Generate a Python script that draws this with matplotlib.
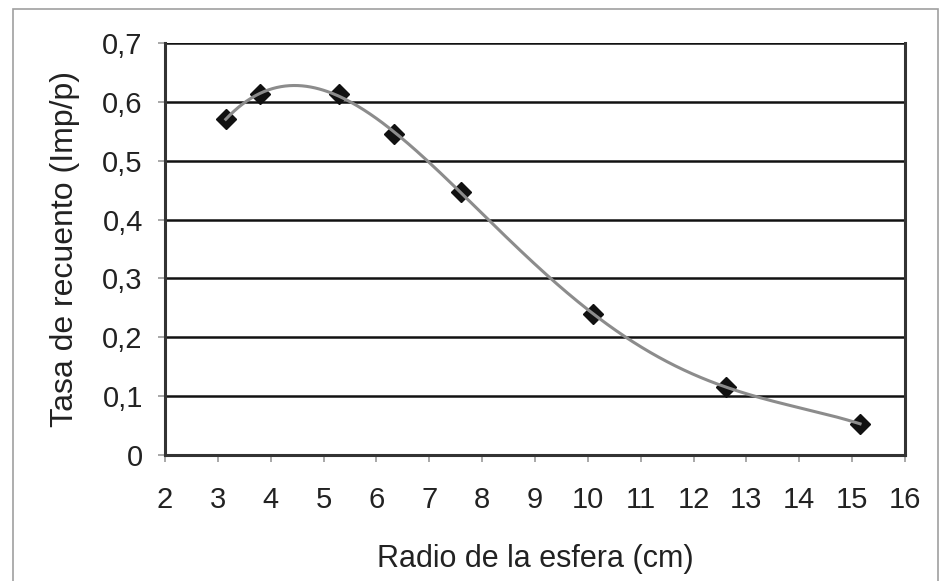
import matplotlib.pyplot as plt
import numpy as np
from matplotlib.patches import Rectangle

plt.rcParams['font.family'] = ['Liberation Sans', 'DejaVu Sans']

# radio de la esfera (cm) y tasa de recuento (Imp/p)
radio = [3.15, 3.80, 5.30, 6.33, 7.60, 10.10, 12.62, 15.15]
tasa = [0.571, 0.613, 0.613, 0.545, 0.447, 0.240, 0.115, 0.053]

x_ticks = list(range(2, 17))
y_ticks = [0, 0.1, 0.2, 0.3, 0.4, 0.5, 0.6, 0.7]
y_labels = ['0', '0,1', '0,2', '0,3', '0,4', '0,5', '0,6', '0,7']

fig = plt.figure(figsize=(9.5, 5.81), dpi=100)
ax = fig.add_axes([0.1737, 0.2169, 0.7789, 0.7091])

# marco gris alrededor del grafico
fig.patches.append(Rectangle((0.0137, -0.02), 0.974, 1.0045, transform=fig.transFigure,
                             fill=False, edgecolor='#a0a0a0', linewidth=1.2))

# linea de tendencia polinomica
coef = np.polyfit(radio, tasa, 4)
xs = np.linspace(radio[0], radio[-1], 300)
ax.plot(xs, np.polyval(coef, xs), color='#8c8c8c', linewidth=2.2, zorder=4)
ax.plot(radio, tasa, linestyle='none', marker='D', markersize=10.5,
        color='#111111', zorder=3)

ax.set_xlim(2, 16)
ax.set_ylim(0, 0.7)
ax.set_xticks(x_ticks)
ax.set_yticks(y_ticks)
ax.set_yticklabels(y_labels)
ax.grid(axis='y', color='#111111', linewidth=1.8)
ax.set_axisbelow(True)

for s in ['left', 'bottom', 'right']:
    ax.spines[s].set_color('#333333')
    ax.spines[s].set_linewidth(2.2)
ax.spines['top'].set_visible(False)

ax.tick_params(axis='both', direction='out', length=5, width=1.2, color='#999999',
               labelsize=21, labelcolor='#222222')
ax.tick_params(axis='x', pad=17)
ax.tick_params(axis='y', pad=11)

ax.set_xlabel('Radio de la esfera (cm)', fontsize=22, color='#222222', labelpad=22)
ax.set_ylabel('Tasa de recuento (Imp/p)', fontsize=23, color='#222222', labelpad=16)

fig.savefig('out.png', dpi=100)
